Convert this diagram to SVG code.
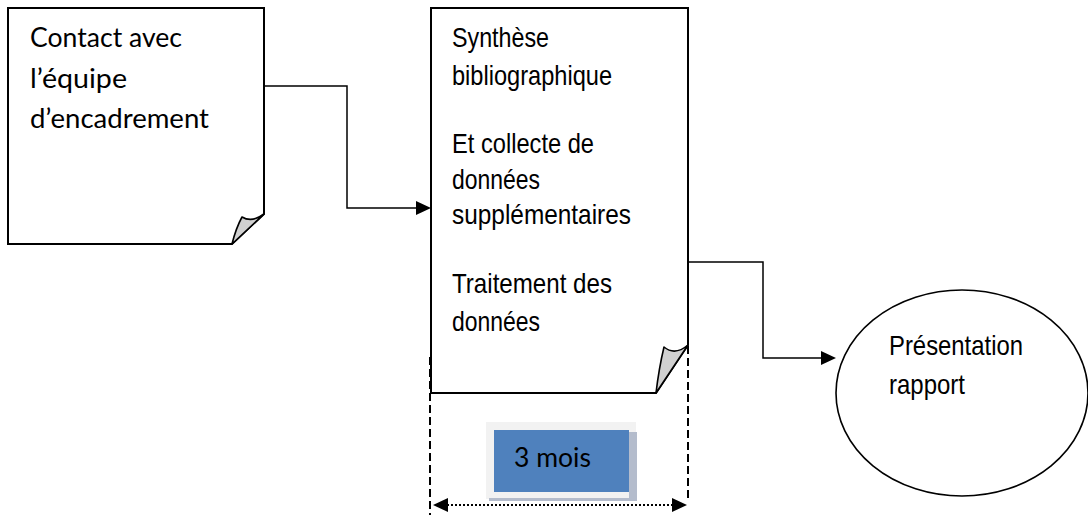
<svg xmlns="http://www.w3.org/2000/svg" width="1088" height="515" viewBox="0 0 1088 515">
<style>
.box{fill:#fff;stroke:#000;stroke-width:2;stroke-linejoin:miter}
.fold{fill:#d0d0d0;stroke:#000;stroke-width:1.6;stroke-linejoin:round}
.c{font-family:Lato,"Liberation Sans",sans-serif;font-size:27px;fill:#000}
.a{font-family:"Liberation Sans",Arial,sans-serif;font-size:28px;fill:#000}
.ln{fill:none;stroke:#000;stroke-width:1.5}
.dash{fill:none;stroke:#000;stroke-width:2;stroke-dasharray:8 4}
.dot{fill:none;stroke:#000;stroke-width:2;stroke-dasharray:2 2}
</style>
<g id="node-contact">
<path class="box" d="M8,8 H264 V214 L232,244 H8 Z"/>
<path class="fold" d="M232,244 Q236,228 242,217 Q252,223 264,214 Z"/>
<text class="c" x="30" y="47" textLength="152" lengthAdjust="spacingAndGlyphs">Contact avec</text>
<text class="c" x="30" y="88" textLength="97" lengthAdjust="spacingAndGlyphs">l’équipe</text>
<text class="c" x="30" y="128" textLength="179" lengthAdjust="spacingAndGlyphs">d’encadrement</text>
</g>
<g id="node-synthese">
<path class="box" d="M431,8 H688 V345 L656,393 H431 Z"/>
<path class="fold" d="M656,393 Q659,368 664,347 Q675,356 688,345 Z"/>
<text class="a" x="452" y="47" textLength="97" lengthAdjust="spacingAndGlyphs">Synthèse</text>
<text class="a" x="452" y="85" textLength="160" lengthAdjust="spacingAndGlyphs">bibliographique</text>
<text class="a" x="452" y="153" textLength="142" lengthAdjust="spacingAndGlyphs">Et collecte de</text>
<text class="a" x="452" y="189" textLength="88" lengthAdjust="spacingAndGlyphs">données</text>
<text class="a" x="452" y="224" textLength="179" lengthAdjust="spacingAndGlyphs">supplémentaires</text>
<text class="a" x="452" y="293" textLength="160" lengthAdjust="spacingAndGlyphs">Traitement des</text>
<text class="a" x="452" y="331" textLength="88" lengthAdjust="spacingAndGlyphs">données</text>
</g>
<g id="node-presentation">
<ellipse cx="962" cy="393" rx="126" ry="103" fill="#fff" stroke="#000" stroke-width="1.6"/>
<text class="a" x="889" y="355" textLength="134" lengthAdjust="spacingAndGlyphs">Présentation</text>
<text class="a" x="889" y="394" textLength="76" lengthAdjust="spacingAndGlyphs">rapport</text>
</g>
<g id="node-duree">
<rect x="486" y="422" width="150" height="77" fill="#f2f2f2"/>
<rect x="629" y="432" width="8" height="69" fill="#b4bccc"/>
<rect x="489" y="498" width="148" height="3" fill="#b4bccc"/>
<rect x="494" y="430" width="135" height="62" fill="#4f81bd"/>
<text class="c" x="514" y="467" textLength="77" lengthAdjust="spacingAndGlyphs">3 mois</text>
</g>
<g id="connectors">
<path class="ln" d="M264,86 H347 V208 H416"/>
<polygon points="431,208 416,201 416,215" fill="#000"/>
<path class="ln" d="M688,262 H763 V358 H821"/>
<polygon points="836,358 821,351 821,365" fill="#000"/>
<path class="dash" d="M430,357 V515"/>
<path class="dash" d="M688,346 V500"/>
<path class="dot" d="M447,505 H673"/>
<polygon points="433,505 448,498 448,512" fill="#000"/>
<polygon points="687,505 672,498 672,512" fill="#000"/>
</g>
</svg>
